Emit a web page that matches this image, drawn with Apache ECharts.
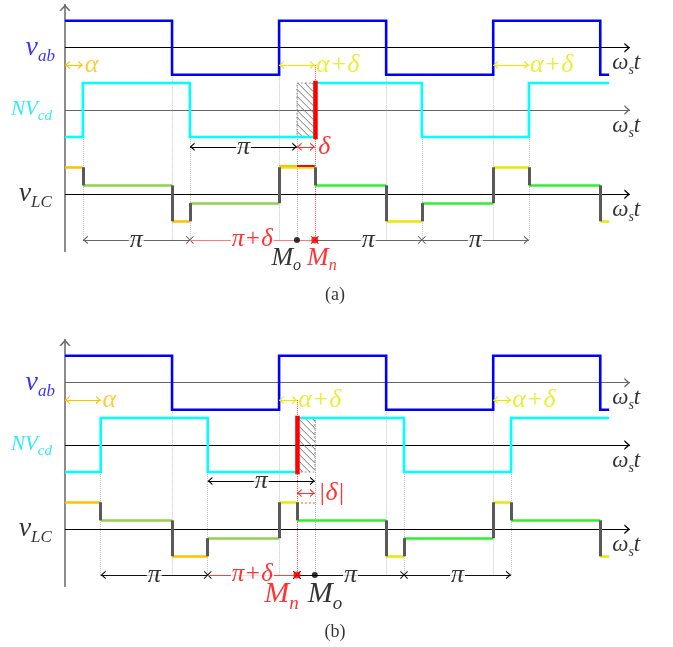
<!DOCTYPE html>
<html><head><meta charset="utf-8">
<script src="https://cdn.jsdelivr.net/npm/echarts@6/dist/echarts.min.js"></script>
<style>html,body{margin:0;padding:0;background:#fff}#c{width:673px;height:647px}</style>
</head><body><div id="c"></div>
<script>
// ---------------- data (x in degrees of ωs·t) ----------------
const vabEdges = [0, 180, 360, 540, 720, 900, 915];
const vabLevels = [1, -1, 1, -1, 1, -1];
const cdEdgesA = [0, 30, 210, 420, 600, 780, 915];
const cdEdgesB = [0, 60, 240, 390, 570, 750, 915];
const cdLevels = [-1, 1, -1, 1, -1, 1];
const lcEdgesA = [0, 30, 180, 210, 360, 420, 540, 600, 720, 780, 900, 915];
const lcEdgesB = [0, 60, 180, 240, 360, 390, 540, 570, 720, 750, 900, 915];
const lcLevels = [1, 0.33, -1, -0.33, 1, 0.33, -1, -0.33, 1, 0.33, -1];
const lcColors = ['#FFC000','#92D050','#FFC000','#92D050','#E8E800','#2EF02E','#E8E800','#2EF02E','#E8E800','#2EF02E','#E8E800'];
const alphaA = 30, deltaA = 30;
const alphaB = 60, deltaB = -30;
const rowNames = ['v|ab', 'NV|cd', 'v|LC'];
const panelNames = ['(a)', '(b)'];

// ---------------- layout constants ----------------
const FONT = '"Liberation Serif","Times New Roman",serif';
const XMAX = 950;
const AB = 0, CD = -2.31, LC = -5.43, BOT = -7.12, AY = -0.64;
const CHEV = 'path://M0,0L0.01,0L0,0.01Z M19.99,20L20,20L20,19.99Z M4.4,16.25L10,10L15.6,16.25L13.63,16.25L10,12.2L6.37,16.25Z';
const XSYM = 'path://M0,0L0.01,0L0,0.01Z M19.99,20L20,20L20,19.99Z M5,5.9L5.9,5L10,9.1L14.1,5L15,5.9L10.9,10L15,14.1L14.1,15L10,10.9L5.9,15L5,14.1L9.1,10Z';

const cfg = [
  {top: 4.5, alpha: alphaA, delta: deltaA, cdEdges: cdEdgesA, lcEdges: lcEdgesA,
   axisCols: ['#000', '#666', '#000'], bot: '#666', botRed: '#FF7A7A', piY: -1.36, dY: -1.36, dText: 'δ',
   mF: 26, mS: 16, mY: -7.85, lblY: -9.16},
  {top: 339.5, alpha: alphaB, delta: deltaB, cdEdges: cdEdgesB, lcEdges: lcEdgesB,
   axisCols: ['#666', '#000', '#000'], bot: '#111', botRed: '#FF4040', piY: -1.33, dY: -1.78, dText: '|δ|',
   mF: 30, mS: 19, mY: -7.92, lblY: -9.23}
];

function stepPts(edges, levels, base) {
  const pts = [];
  for (let k = 0; k < levels.length; k++) {
    pts.push([edges[k], base + levels[k]]);
    pts.push([edges[k + 1], base + levels[k]]);
  }
  return pts;
}
function linesSeries(i, items, opt) {
  opt = opt || {};
  const ls = Object.assign({width: 1, curveness: 0}, opt.lineStyle || {}, {opacity: 1});
  const s = Object.assign({
    type: 'lines', coordinateSystem: 'cartesian2d', xAxisIndex: i, yAxisIndex: i,
    symbol: ['none', 'none'], symbolSize: 16, silent: true, z: 5,
    data: items
  }, opt);
  s.lineStyle = ls;
  return s;
}
function L(x0, y0, x1, y1, color, extra) {
  return {coords: [[x0, y0], [x1, y1]], lineStyle: Object.assign({color: color, opacity: 1}, extra || {})};
}
function richSub(color, F, f) {
  return {
    m: {fontFamily: FONT, fontStyle: 'italic', fontSize: F, color: color, verticalAlign: 'top', lineHeight: Math.round(F * 1.12)},
    s: {fontFamily: FONT, fontStyle: 'italic', fontSize: f, color: color, verticalAlign: 'bottom', lineHeight: f}
  };
}
function subFmt(name) { const p = name.split('|'); return '{m|' + p[0] + '}{s|' + p[1] + '}'; }
function T(x, y, text, align, color, size, extra) {
  return {value: [x, y], label: Object.assign({
    show: true, position: 'inside', align: align, verticalAlign: 'middle', formatter: text,
    fontFamily: FONT, fontStyle: 'italic', fontSize: size, color: color
  }, extra || {})};
}

const grids = [], xAxes = [], yAxes = [], series = [];
cfg.forEach(function (p, i) {
  grids.push({left: 65, top: p.top, width: 565, height: 247});
  xAxes.push({gridIndex: i, type: 'value', min: 0, max: XMAX, show: false});
  yAxes.push({gridIndex: i, type: 'value', min: -7.55, max: 1.6,
    axisLine: {show: true, onZero: false, symbol: ['none', CHEV], symbolSize: [20, 20], lineStyle: {color: '#666', width: 1.5}},
    axisTick: {show: false}, axisLabel: {show: false}, splitLine: {show: false}});

  const a = p.alpha, d = p.delta;
  const orig = 360 + a, shifted = 360 + a + d;
  const hs = Math.min(orig, shifted), he = Math.max(orig, shifted);

  // row axes
  series.push(linesSeries(i, [AB, CD, LC].map(function (b, k) { return L(0, b, XMAX, b, p.axisCols[k]); }),
    {symbol: ['none', CHEV], symbolSize: 18, z: 1, lineStyle: {width: 1.1}}));

  // guides
  const g = [];
  vabEdges.slice(1, -1).filter(function (e) { return e < 900; }).forEach(function (e) { g.push(L(e, AB - 1, e, BOT, '#c4c4c4')); });
  p.cdEdges.slice(1, -1).filter(function (e) { return e !== shifted; }).forEach(function (e) { g.push(L(e, CD - 1, e, BOT, '#c4c4c4')); });
  g.push(L(orig, CD + 1, orig, BOT, '#aaa'));
  series.push(linesSeries(i, g, {z: 1, lineStyle: {width: 1, type: 'dotted'}}));
  series.push(linesSeries(i, [L(shifted, AY, shifted, BOT, '#FF5050')], {z: 1, lineStyle: {width: 1, type: 'dotted'}}));

  // hatch
  series.push({
    type: 'custom', xAxisIndex: i, yAxisIndex: i, z: 2, silent: true,
    data: [[hs, he, CD - 1, CD + 1]],
    renderItem: function (params, api) {
      const A = api.coord([api.value(0), api.value(3)]);
      const B = api.coord([api.value(1), api.value(2)]);
      const l = A[0], t = A[1], r = B[0], b = B[1];
      const ch = [{type: 'rect', shape: {x: l, y: t, width: r - l, height: b - t},
        style: {fill: 'transparent', stroke: '#999', lineWidth: 1, lineDash: [2, 2]}}];
      for (let c = t - r + 3; c < b - l; c += 7) {
        const x0 = Math.max(l, t - c), x1 = Math.min(r, b - c);
        if (x1 > x0) ch.push({type: 'line', shape: {x1: x0, y1: x0 + c, x2: x1, y2: x1 + c}, style: {stroke: '#777', lineWidth: 1}});
      }
      return {type: 'group', children: ch};
    }
  });

  // v_ab and Nv_cd
  series.push({type: 'line', xAxisIndex: i, yAxisIndex: i, data: stepPts(vabEdges, vabLevels, AB), symbol: 'none', z: 3,
    lineStyle: {color: '#0000FF', width: 2.6, join: 'miter'}, silent: true});
  series.push({type: 'line', xAxisIndex: i, yAxisIndex: i, data: stepPts(p.cdEdges, cdLevels, CD), symbol: 'none', z: 3,
    lineStyle: {color: '#00FFFF', width: 2.6, join: 'miter'}, silent: true});
  series.push(linesSeries(i, [L(shifted, CD - 1, shifted, CD + 1, '#FF0000')], {z: 4, lineStyle: {width: 4.5, cap: 'square'}}));

  // v_LC
  const hz = [], vt = [];
  for (let k = 0; k < lcLevels.length; k++) {
    hz.push(L(p.lcEdges[k], LC + lcLevels[k], p.lcEdges[k + 1], LC + lcLevels[k], lcColors[k]));
    if (k > 0) vt.push(L(p.lcEdges[k], LC + lcLevels[k - 1], p.lcEdges[k], LC + lcLevels[k], '#595959'));
  }
  series.push(linesSeries(i, hz, {z: 3, lineStyle: {width: 2.6}}));
  if (d > 0) {
    series.push(linesSeries(i, [L(360, LC + 1.07, orig, LC + 1.07, '#FFC000'), L(orig, LC + 1.07, shifted, LC + 1.07, '#FF0000')],
      {z: 3, lineStyle: {width: 2.2}}));
  } else {
    series.push(linesSeries(i, [L(shifted, LC + 1, orig, LC + 1, '#FFB080')], {z: 3, lineStyle: {width: 2, type: 'dotted'}}));
  }
  series.push(linesSeries(i, vt, {z: 4, lineStyle: {width: 3}}));

  // annotation arrows
  series.push(linesSeries(i, [
    L(0, AY, a, AY, '#FFC000'),
    L(360, AY, shifted, AY, '#E8E800'),
    L(720, AY, 720 + a + d, AY, '#E8E800'),
    L(180 + a, CD + p.piY, orig, CD + p.piY, '#000'),
    L(hs, CD + p.dY, he, CD + p.dY, '#FF3030')
  ], {symbol: [CHEV, CHEV], symbolSize: 15}));
  series.push(linesSeries(i, [L(a, BOT, 180 + a, BOT, p.bot)], {symbol: [CHEV, XSYM], symbolSize: 16}));
  series.push(linesSeries(i, [L(180 + a, BOT, shifted, BOT, p.botRed)], {symbol: ['none', XSYM], symbolSize: 16}));
  series.push(linesSeries(i, [L(shifted, BOT, 540 + a + d, BOT, p.bot)], {symbol: [XSYM, XSYM], symbolSize: 16}));
  series.push(linesSeries(i, [L(540 + a + d, BOT, 720 + a + d, BOT, p.bot)], {symbol: ['none', CHEV], symbolSize: 16}));
  series.push({type: 'scatter', xAxisIndex: i, yAxisIndex: i, z: 6, silent: true, symbol: 'circle',
    data: [{value: [orig, BOT], itemStyle: {color: '#000'}, symbolSize: 6}, {value: [shifted, BOT], itemStyle: {color: '#FF0000'}, symbolSize: 7}]});

  // texts
  const rowCols = ['#0000FF', '#00E5EE', '#000'];
  const tx = [];
  [AB, CD, LC].forEach(function (b, k) {
    const F = k === 1 ? 21 : 28, f = k === 1 ? 15 : 17;
    tx.push(T(k === 0 ? -17 : -22, b - 0.05, subFmt(rowNames[k]), 'right', rowCols[k], F, {rich: richSub(rowCols[k], F, f)}));
    tx.push(T(920, b - 0.63, '{m|ω}{s|s}{m|t}', 'left', '#000', 23, {rich: richSub('#000', 23, 14)}));
  });
  tx.push(T(a + 3, AY, 'α', 'left', '#FFC000', 26));
  tx.push(T(shifted + 2, AY, 'α+δ', 'left', '#E8E800', 26));
  tx.push(T(720 + a + d + 2, AY, 'α+δ', 'left', '#E8E800', 26));
  const wb = {backgroundColor: '#fff', padding: [0, 1], lineHeight: 14};
  tx.push(T(270 + a, CD + p.piY, 'π', 'center', '#000', 26, wb));
  tx.push(T(he + 6, CD + p.dY, p.dText, 'left', '#FF0000', 26));
  tx.push(T(90 + a, BOT, 'π', 'center', '#000', 26, wb));
  tx.push(T((180 + a + shifted) / 2, BOT, 'π+δ', 'center', '#FF0000', 25, wb));
  tx.push(T(450 + a + d, BOT, 'π', 'center', '#000', 26, wb));
  tx.push(T(630 + a + d, BOT, 'π', 'center', '#000', 26, wb));
  if (d > 0) {
    tx.push(T(orig + 7, p.mY, '{m|M}{s|o}', 'right', '#000', p.mF, {rich: richSub('#000', p.mF, p.mS)}));
    tx.push(T(shifted - 13, p.mY, '{m|M}{s|n}', 'left', '#FF0000', p.mF, {rich: richSub('#FF0000', p.mF, p.mS)}));
  } else {
    tx.push(T(shifted + 3, p.mY, '{m|M}{s|n}', 'right', '#FF0000', p.mF, {rich: richSub('#FF0000', p.mF, p.mS)}));
    tx.push(T(orig - 12, p.mY, '{m|M}{s|o}', 'left', '#000', p.mF, {rich: richSub('#000', p.mF, p.mS)}));
  }
  tx.push(T(454, p.lblY, panelNames[i], 'center', '#000', 18, {fontStyle: 'normal'}));
  series.push({type: 'scatter', xAxisIndex: i, yAxisIndex: i, z: 10, silent: true, clip: false,
    symbolSize: 1, itemStyle: {color: 'rgba(0,0,0,0)'}, data: tx});
});

const chart = echarts.init(document.getElementById('c'), null, {renderer: 'canvas', width: 673, height: 647});
chart.setOption({animation: false, backgroundColor: '#fff', grid: grids, xAxis: xAxes, yAxis: yAxes, series: series});
</script></body></html>
